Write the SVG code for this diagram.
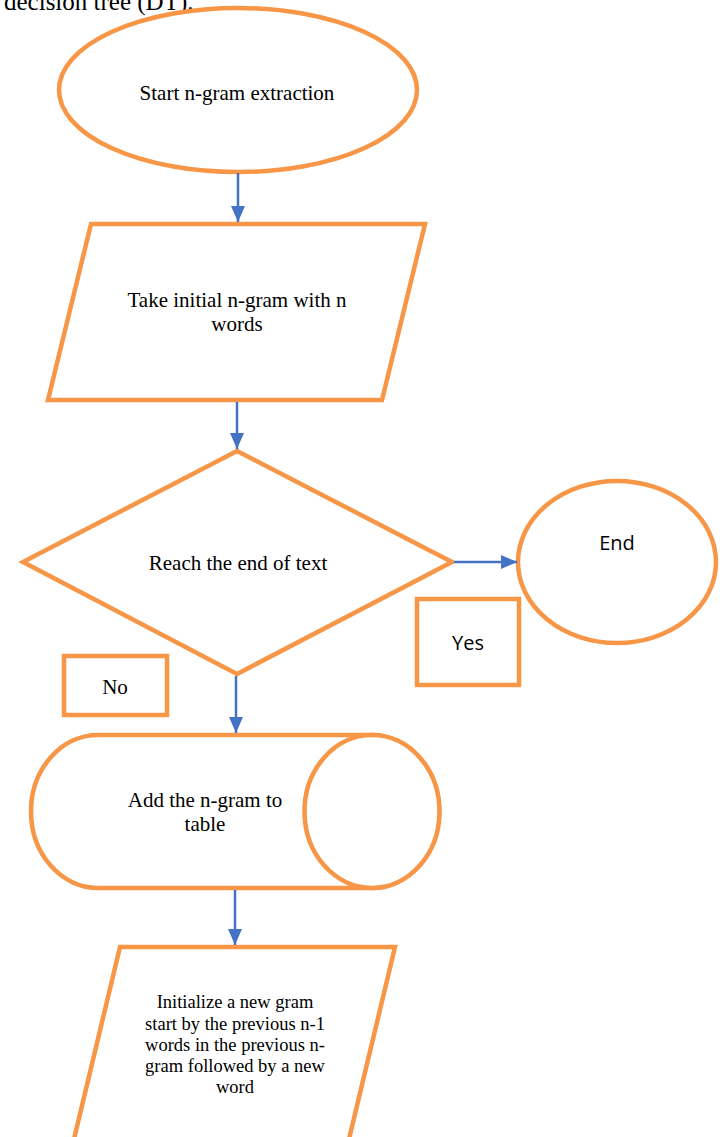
<svg xmlns="http://www.w3.org/2000/svg" width="726" height="1137" viewBox="0 0 726 1137">
<style>
.shape{fill:#fff;stroke:#F79646;stroke-width:4.5}
.conn{stroke:#4472C4;stroke-width:2.5;fill:none}
.serif{font-family:"Liberation Serif","Times New Roman",serif;fill:#000;text-anchor:middle}
.sans{font-family:"Open Sans","Liberation Sans",sans-serif;fill:#000;text-anchor:middle}
</style>
<defs>
<marker id="arr" markerUnits="userSpaceOnUse" viewBox="0 0 16 14" refX="16" refY="7" markerWidth="16" markerHeight="14" orient="auto">
<path d="M0,0 L16,7 L0,14 Z" fill="#4472C4"/>
</marker>
</defs>
<rect width="726" height="1137" fill="#fff"/>
<text x="4" y="10" font-family="Liberation Serif, Times New Roman, serif" font-size="25" fill="#000">decision tree (DT).</text>

<g id="start">
<ellipse class="shape" cx="238" cy="90" rx="179" ry="82"/>
<text class="serif" x="237" y="100" font-size="21">Start n-gram extraction</text>
</g>

<g id="take">
<polygon class="shape" points="91,224 425,224 382,400 48,400"/>
<text class="serif" x="237" y="307" font-size="21">Take initial n-gram with n</text>
<text class="serif" x="237" y="331" font-size="21">words</text>
</g>

<g id="decision">
<polygon class="shape" points="237,451 452,562 237,674 23,562"/>
<text class="serif" x="238" y="570" font-size="21">Reach the end of text</text>
</g>

<g id="end">
<ellipse class="shape" cx="617" cy="562" rx="99" ry="81"/>
<text class="sans" x="617" y="550" font-size="20">End</text>
</g>

<g id="yes">
<rect class="shape" x="417" y="599" width="102" height="86"/>
<text class="sans" x="468" y="650" font-size="20">Yes</text>
</g>

<g id="no">
<rect class="shape" x="64" y="656" width="103" height="59"/>
<text class="serif" x="115" y="694" font-size="21">No</text>
</g>

<g id="table">
<path class="shape" d="M98,735 L372,735 A67,76.5 0 0 1 372,888 L98,888 A67,76.5 0 0 1 98,735 Z"/>
<ellipse class="shape" cx="372" cy="811.5" rx="67.5" ry="76.5"/>
<text class="serif" x="205" y="807" font-size="21">Add the n-gram to</text>
<text class="serif" x="205" y="831" font-size="21">table</text>
</g>

<g id="init">
<polygon class="shape" points="120,947 395,947 344,1160 69,1160"/>
<text class="serif" x="235" y="1008" font-size="18.5">Initialize a new gram</text>
<text class="serif" x="235" y="1030" font-size="18.5">start by the previous n-1</text>
<text class="serif" x="235" y="1051" font-size="18.5">words in the previous n-</text>
<text class="serif" x="235" y="1072" font-size="18.5">gram followed by a new</text>
<text class="serif" x="235" y="1093" font-size="18.5">word</text>
</g>

<g id="connectors">
<line class="conn" x1="238" y1="173" x2="238" y2="222" marker-end="url(#arr)"/>
<line class="conn" x1="237" y1="402" x2="237" y2="449" marker-end="url(#arr)"/>
<line class="conn" x1="454" y1="562" x2="517" y2="562" marker-end="url(#arr)"/>
<line class="conn" x1="236" y1="676" x2="236" y2="733" marker-end="url(#arr)"/>
<line class="conn" x1="235" y1="890" x2="235" y2="945" marker-end="url(#arr)"/>
</g>
</svg>
